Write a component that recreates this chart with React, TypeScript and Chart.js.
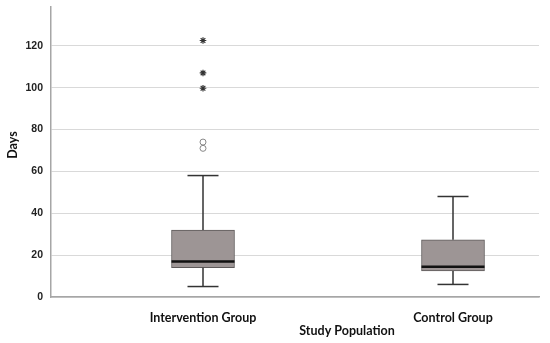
import React, { useEffect, useRef } from "react";
import { Chart, registerables } from "chart.js";

Chart.register(...registerables);

const categories = ["Intervention Group", "Control Group"];
const q1 = [14, 12.4];
const q3 = [32, 27.3];
const medians = [17, 14.4];
const whiskerLow = [5, 6];
const whiskerHigh = [58, 48];
const mildOutliers = [[71, 74], []];
const extremeOutliers = [[99.7, 107, 122.5], []];
const yTicks = [0, 20, 40, 60, 80, 100, 120];
const yTitle = "Days";
const xTitle = "Study Population";

export default function App() {
  const ref = useRef<HTMLCanvasElement | null>(null);

  useEffect(() => {
    if (!ref.current) return;
    const xs = categories.map((_, i) => i + 1);

    const whiskerData: any[] = [];
    xs.forEach((x, i) => {
      whiskerData.push({ x, y: whiskerLow[i] }, { x, y: q1[i] }, { x, y: null });
      whiskerData.push({ x, y: q3[i] }, { x, y: whiskerHigh[i] }, { x, y: null });
    });
    const capData: any[] = [];
    xs.forEach((x, i) => {
      capData.push({ x, y: whiskerLow[i] }, { x, y: whiskerHigh[i] });
    });
    const mildData: any[] = [];
    const extData: any[] = [];
    xs.forEach((x, i) => {
      mildOutliers[i].forEach((v) => mildData.push({ x, y: v }));
      extremeOutliers[i].forEach((v) => extData.push({ x, y: v }));
    });

    const titlePlugin = {
      id: "titles",
      afterDraw(chart: any) {
        const ctx = chart.ctx;
        ctx.save();
        ctx.fillStyle = "#111";
        ctx.font = "bold 12.5px Lato";
        ctx.textAlign = "center";
        ctx.textBaseline = "middle";
        ctx.fillText(xTitle, 347, 331);
        ctx.translate(13, 145);
        ctx.rotate(-Math.PI / 2);
        ctx.fillText(yTitle, 0, 0);
        ctx.restore();
      },
    };

    const chart = new Chart(ref.current, {
      type: "bar",
      data: {
        datasets: [
          {
            type: "scatter",
            data: xs.map((x, i) => ({ x, y: medians[i] })),
            pointStyle: "line",
            pointRadius: 31.5,
            borderColor: "#111",
            borderWidth: 2.5,
            order: 0,
          } as any,
          {
            type: "scatter",
            data: capData,
            pointStyle: "line",
            pointRadius: 15.5,
            borderColor: "#333",
            borderWidth: 1.5,
            order: 1,
          } as any,
          {
            type: "scatter",
            data: mildData,
            pointStyle: "circle",
            pointRadius: 3,
            backgroundColor: "rgba(0,0,0,0)",
            borderColor: "#888",
            borderWidth: 1,
            order: 1,
          } as any,
          {
            type: "scatter",
            data: extData,
            pointStyle: "star",
            pointRadius: 3.3,
            borderColor: "#333",
            borderWidth: 1.2,
            order: 1,
          } as any,
          {
            type: "line",
            data: whiskerData,
            borderColor: "#333",
            borderWidth: 1.5,
            pointRadius: 0,
            spanGaps: false,
            fill: false,
            order: 2,
          } as any,
          {
            type: "bar",
            data: xs.map((x, i) => ({ x, y: [q1[i], q3[i]] })),
            backgroundColor: "#9d9595",
            borderColor: "#5e5a5a",
            borderWidth: 1,
            borderSkipped: false,
            barThickness: 63,
            order: 5,
          } as any,
        ],
      },
      options: {
        animation: false,
        responsive: false,
        events: [],
        layout: { autoPadding: false, padding: { top: 7, right: 11, left: 0, bottom: 0 } },
        plugins: { legend: { display: false }, tooltip: { enabled: false } },
        scales: {
          x: {
            type: "linear",
            min: 0.392,
            max: 2.344,
            offset: false,
            grid: { display: false, offset: false, drawTicks: false },
            border: { display: true, color: "#a6a6a6", width: 1.5 },
            afterBuildTicks: (s: any) => {
              s.ticks = xs.map((v) => ({ value: v }));
            },
            afterFit: (s: any) => {
              s.height = 46;
              s.paddingLeft = 0;
              s.paddingRight = 0;
            },
            ticks: {
              padding: 13,
              color: "#111",
              font: { family: "Lato", weight: "bold", size: 12.5 },
              maxRotation: 0,
              callback: (v: any) => categories[Math.round(Number(v)) - 1] ?? "",
            },
          },
          y: {
            type: "linear",
            min: 0,
            max: 138.5,
            grid: { color: "#d9d9d9", lineWidth: 1, drawTicks: false },
            border: { display: true, color: "#a6a6a6", width: 1.5 },
            afterBuildTicks: (s: any) => {
              s.ticks = yTicks.map((v) => ({ value: v }));
            },
            afterFit: (s: any) => {
              s.width = 51;
              s.paddingTop = 0;
              s.paddingBottom = 0;
            },
            ticks: {
              padding: 8,
              color: "#222",
              font: { family: "Liberation Sans", weight: "bold", size: 10.5 },
            },
          },
        },
      } as any,
      plugins: [titlePlugin],
    });
    return () => chart.destroy();
  }, []);

  return (
    <div style={{ position: "absolute", left: 0, top: 0, width: 550, height: 343, background: "#fff" }}>
      <canvas ref={ref} width={550} height={343} />
    </div>
  );
}
